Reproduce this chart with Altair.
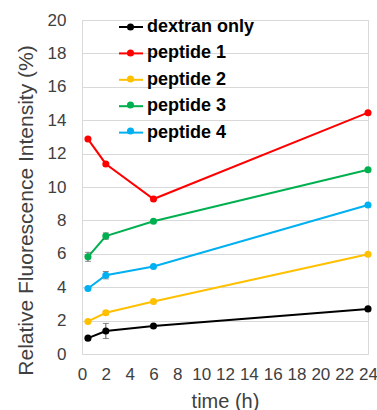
import altair as alt
import pandas as pd

times = [0.5, 2, 6, 24]
series_names = ["dextran only", "peptide 1", "peptide 2", "peptide 3", "peptide 4"]
dextran = [0.95, 1.38, 1.68, 2.70]
peptide1 = [12.87, 11.38, 9.28, 14.45]
peptide2 = [1.95, 2.47, 3.14, 5.97]
peptide3 = [5.82, 7.06, 7.95, 11.03]
peptide4 = [3.92, 4.72, 5.24, 8.92]
dextran_err = [0.0, 0.45, 0.0, 0.0]
peptide1_err = [0.0, 0.0, 0.0, 0.0]
peptide2_err = [0.0, 0.10, 0.0, 0.0]
peptide3_err = [0.27, 0.19, 0.0, 0.0]
peptide4_err = [0.0, 0.22, 0.0, 0.0]
colors = ["#000000", "#FF0000", "#FFC000", "#00B050", "#00B0F0"]
x_ticks = list(range(0, 25, 2))
y_ticks = list(range(0, 21, 2))

vals = [dextran, peptide1, peptide2, peptide3, peptide4]
errs = [dextran_err, peptide1_err, peptide2_err, peptide3_err, peptide4_err]
rows = []
for name, v, e in zip(series_names, vals, errs):
    for t, yv, ev in zip(times, v, e):
        rows.append({"series": name, "time": t, "value": yv,
                     "err": ev, "lo": yv - ev, "hi": yv + ev})
df = pd.DataFrame(rows)

FONT = "Liberation Sans"
color_scale = alt.Scale(domain=series_names, range=colors)
x_scale = alt.Scale(domain=[0, 24], nice=False)
y_scale = alt.Scale(domain=[0, 20], nice=False)
x_axis = alt.Axis(values=x_ticks, title="time (h)", grid=False, ticks=False,
                  domain=False, labelFontSize=17, labelPadding=12,
                  labelOverlap=False, labelFlush=False, labelColor="#404040",
                  labelFont=FONT, titleFont=FONT, titleFontSize=20,
                  titleFontWeight="normal", titleColor="#404040", titleY=47,
                  titleBaseline="middle")
y_axis = alt.Axis(values=y_ticks, title="Relative Fluorescence Intensity (%)",
                  grid=True, gridColor="#d9d9d9", ticks=False, domain=False,
                  labelFontSize=17, labelPadding=16, labelColor="#404040",
                  labelFont=FONT, titleFont=FONT, titleFontSize=21,
                  titleFontWeight="normal", titleColor="#404040",
                  titleAngle=-90, titleAlign="center", titleBaseline="middle",
                  titleX=-56, titleY=190)


def X():
    return alt.X("time:Q", scale=x_scale, axis=x_axis)


def Y(field):
    return alt.Y(f"{field}:Q", scale=y_scale, axis=y_axis)


# line part of each legend entry (with the labels)
legend_line = alt.Legend(title=None, orient="none", legendX=36, legendY=-6,
                         symbolType="stroke", symbolSize=576, symbolStrokeWidth=2,
                         labelFontSize=18, labelFontWeight="bold", labelFont=FONT,
                         labelColor="#000000", labelOffset=3, rowPadding=4.4, padding=0)
# dot part of each legend entry (labels hidden, kept separate via another orient)
legend_dot = alt.Legend(title=None, orient="top-left", offset=-2, symbolOffset=41.5,
                        symbolType="circle", symbolSize=50, symbolStrokeWidth=0,
                        labelFontSize=18, labelFontWeight="bold", labelFont=FONT,
                        labelOpacity=0, labelOffset=4, rowPadding=8, padding=0)

base = alt.Chart(df)
lines = base.mark_line(strokeWidth=2).encode(
    x=X(), y=Y("value"),
    color=alt.Color("series:N", scale=color_scale, legend=legend_line),
    detail="series:N")

err_df = df[df["err"] > 0]
ebase = alt.Chart(err_df)
erule = ebase.mark_rule(color="#595959", strokeWidth=1).encode(
    x=X(), y=Y("lo"), y2="hi:Q")
ecap_lo = ebase.mark_tick(color="#595959", orient="horizontal", size=6, thickness=1).encode(
    x=X(), y=Y("lo"))
ecap_hi = ebase.mark_tick(color="#595959", orient="horizontal", size=6, thickness=1).encode(
    x=X(), y=Y("hi"))

points = base.mark_point(filled=True, size=50, opacity=1).encode(
    x=X(), y=Y("value"),
    fill=alt.Fill("series:N", scale=color_scale, legend=legend_dot))

chart = alt.layer(lines, erule, ecap_lo, ecap_hi, points).properties(
    width=286, height=334,
    autosize=alt.AutoSizeParams(type="none"),
    padding={"left": 82, "top": 20, "right": 9, "bottom": 56},
    background="white",
).configure_view(stroke="#d9d9d9", strokeWidth=1)

chart.save("out.html", embed_options={"renderer": "svg", "actions": False})
